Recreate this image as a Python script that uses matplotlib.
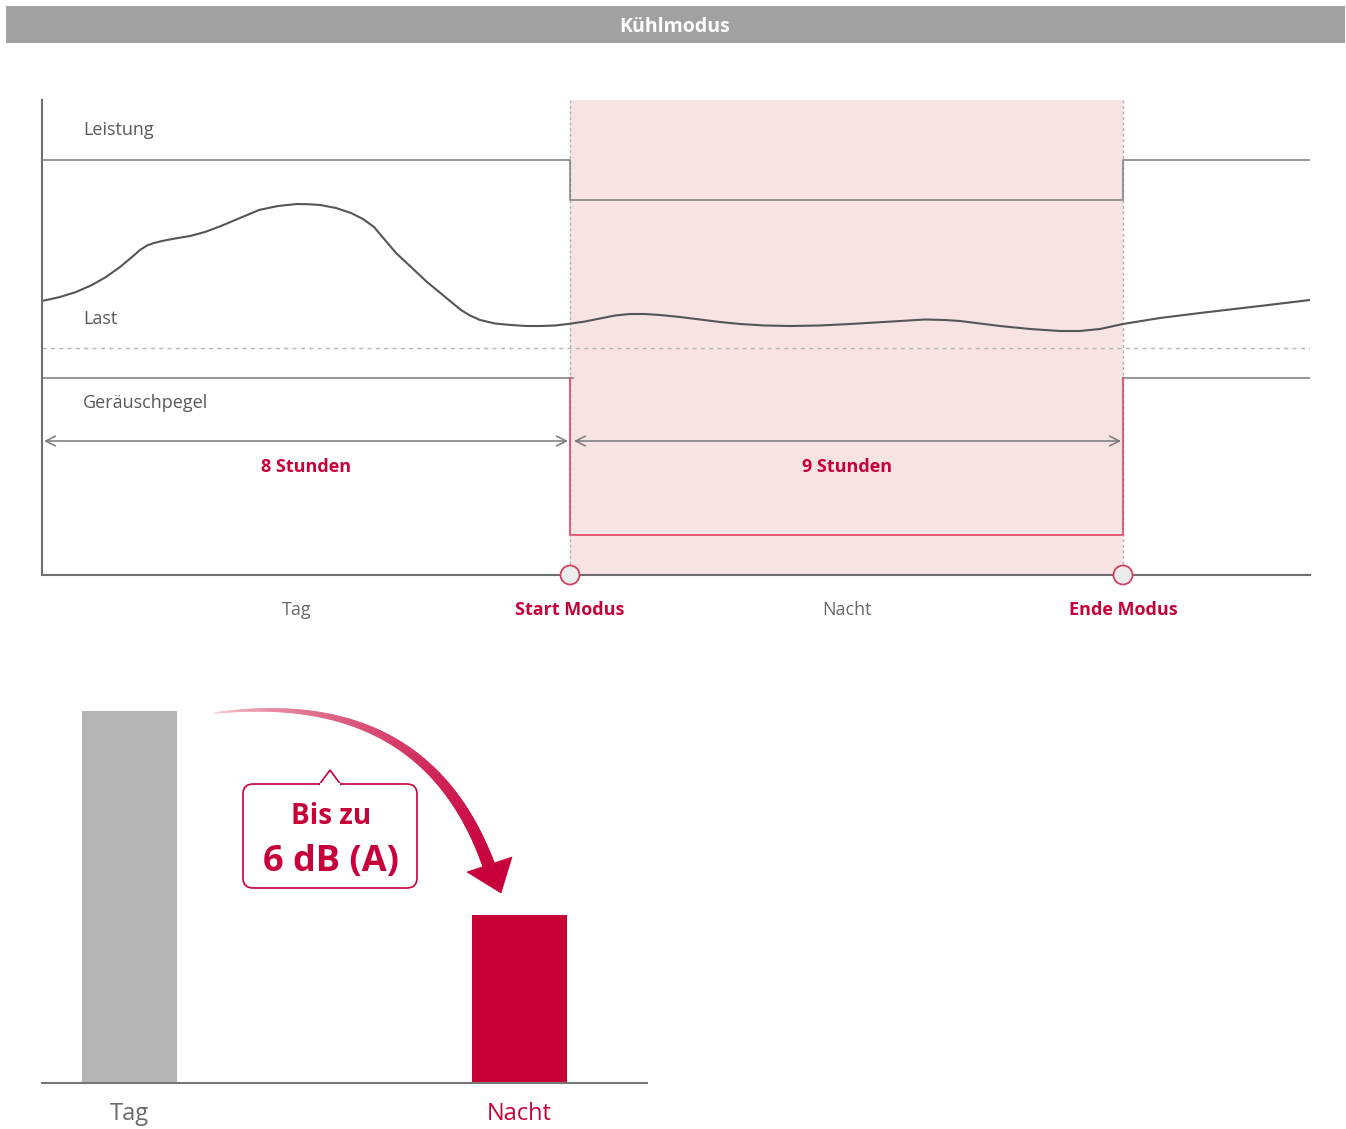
import numpy as np
import matplotlib
matplotlib.use("Agg")
import matplotlib.pyplot as plt
from matplotlib import font_manager
from matplotlib.patches import Rectangle, FancyBboxPatch, Polygon, Circle
from matplotlib.collections import PolyCollection

# pick a family that really has a bold face
_pref = ["Noto Sans", "Open Sans", "Lato", "Roboto", "Liberation Sans", "DejaVu Sans"]
_fams = {}
for f in font_manager.fontManager.ttflist:
    w = f.weight if isinstance(f.weight, int) else (700 if str(f.weight) == "bold" else 400)
    _fams.setdefault(f.name, set()).add((w, f.style))
FAMILY = next((p for p in _pref if any(w >= 700 and s == "normal" for w, s in _fams.get(p, []))),
              "DejaVu Sans")
plt.rcParams['font.family'] = [FAMILY, 'DejaVu Sans']

# ---------------- data ----------------
title = "Kühlmodus"
row_labels = ["Leistung", "Last", "Geräuschpegel"]
axis_labels = ["Tag", "Start Modus", "Nacht", "Ende Modus"]
duration_labels = ["8 Stunden", "9 Stunden"]

# timeline (horizontal units of the diagram)
t_start, t_mode_on, t_mode_off, t_end = 42, 570, 1123, 1310
label_pos = [297, 570, 847, 1123]

# Leistung (power) level: normal / reduced
power_normal, power_reduced = 160, 200
# noise level: normal / reduced
noise_normal, noise_reduced = 378, 535
# load curve
load_x = [42, 60, 76, 92, 106, 120, 132, 140, 147, 154, 162, 175, 190, 205, 221, 240, 259, 278,
          297, 310, 320, 336, 351, 363, 374, 385, 396, 411, 427, 444, 461, 470, 480,
          495, 511, 526, 541, 555, 568, 585, 600, 615, 630, 645, 660, 680, 700, 720,
          740, 765, 790, 820, 850, 875, 900, 925, 945, 960, 980, 1000, 1030, 1060,
          1080, 1100, 1123, 1160, 1200, 1260, 1310]
load_y = [301, 297, 292, 285, 277, 267, 257, 250, 245.5, 243, 241, 238.5, 236, 232, 226, 218, 210, 206,
          204, 204.3, 205, 208, 213, 219, 227, 240, 253, 267, 282, 296, 310, 315.5, 320,
          323.5, 325, 326, 326, 325.5, 324, 321.5, 318.5, 315.5, 314, 314, 315, 317, 319.5, 322,
          324, 325.5, 326, 325.5, 324, 322.5, 321, 319.5, 320, 321, 323.5, 326, 329, 331,
          331, 329, 324, 318, 313, 306, 300]

# bar chart
bar_categories = ["Tag", "Nacht"]
bar_values = [372, 168]
callout_lines = ["Bis zu", "6 dB (A)"]

# ---------------- style ----------------
RED = "#c8003a"
GREY_TXT = "#595959"
PINK = "#f7e4e2"

W, H = 1346, 1129
fig = plt.figure(figsize=(W / 100, H / 100), dpi=100)

def px_axes(x0, y0, x1, y1, **kw):
    return fig.add_axes([x0 / W, 1 - y1 / H, (x1 - x0) / W, (y1 - y0) / H], **kw)

# overlay (decorations) in pixel coordinates
ov = px_axes(0, 0, W, H)
ov.set_xlim(0, W)
ov.set_ylim(H, 0)
ov.axis("off")
ov.set_zorder(0)

# title bar
ov.add_patch(Rectangle((6, 6), 1339, 37, facecolor="#a0a1a0", edgecolor="none"))
ov.text(W / 2 + 2, 27, title, color="white", fontsize=14, fontweight="bold",
        ha="center", va="center")

# ---------------- top diagram ----------------
top_y0, top_y1 = 100, 575
ax = px_axes(t_start, top_y0, t_end, top_y1)
ax.set_xlim(t_start, t_end)
ax.set_ylim(top_y1, top_y0)
ax.axis("off")
ax.set_zorder(1)
ax.patch.set_alpha(0)

ax.axvspan(t_mode_on, t_mode_off, color=PINK, lw=0, zorder=0)
for xv in (t_mode_on, t_mode_off):
    ax.plot([xv, xv], [top_y0, top_y1], color="#b0b0b0", lw=1, ls=(0, (2, 2)), zorder=1)

ax.plot([t_start, t_start], [top_y0, top_y1], color="#6e6e6e", lw=1.5, clip_on=False, zorder=3)
ax.plot([t_start, t_end], [top_y1, top_y1], color="#6e6e6e", lw=1.5, clip_on=False, zorder=3)

ax.plot([t_start, t_mode_on, t_mode_on, t_mode_off, t_mode_off, t_end],
        [power_normal, power_normal, power_reduced, power_reduced, power_normal, power_normal],
        color="#858585", lw=1.2, zorder=2)

ax.plot(load_x, load_y, color="#555555", lw=1.5, zorder=2, solid_joinstyle="round")

ax.plot([t_start, t_end], [348, 348], color="#b5b5b5", lw=1, ls=(0, (3, 3)), zorder=1)

ax.plot([t_start, t_mode_on + 3], [noise_normal, noise_normal], color="#858585", lw=1.2, zorder=2)
ax.plot([t_mode_off, t_end], [noise_normal, noise_normal], color="#858585", lw=1.2, zorder=2)
ax.plot([t_mode_on, t_mode_on, t_mode_off, t_mode_off],
        [noise_normal, noise_reduced, noise_reduced, noise_normal],
        color="#e0506e", lw=1.3, zorder=2)

arrow_y = 441
for (a, b), lab in zip([(t_start + 2, t_mode_on - 2), (t_mode_on + 4, t_mode_off - 2)], duration_labels):
    ax.annotate("", xy=(b, arrow_y), xytext=(a, arrow_y),
                arrowprops=dict(arrowstyle="<->,head_length=0.7,head_width=0.35",
                                color="#7a7a7a", lw=1.1, shrinkA=0, shrinkB=0), zorder=3)
    ax.text((a + b) / 2, 467, lab, color=RED, fontsize=13, fontweight="bold",
            ha="center", va="center")

for lab, yy in zip(row_labels, [130, 319, 403]):
    ax.text(83, yy, lab, color=GREY_TXT, fontsize=13, ha="left", va="center")

for xv in (t_mode_on, t_mode_off):
    ax.add_patch(Circle((xv, top_y1), 9.5, facecolor="#ececec", edgecolor="#d04060",
                        lw=1.3, zorder=5, clip_on=False))

for lab, xv, bold in zip(axis_labels, label_pos, [False, True, False, True]):
    ax.text(xv, 610, lab, color=RED if bold else "#6a6a6a", fontsize=13,
            fontweight="bold" if bold else "normal", ha="center", va="center", clip_on=False)

# ---------------- bar chart ----------------
bx0, bx1, by0, by1 = 42, 647, 700, 1083
bax = px_axes(bx0, by0, bx1, by1)
bax.set_zorder(1)
bax.patch.set_alpha(0)
unit = 390.0
bax.set_xlim(-87.5 / unit, 1 + 127.5 / unit)
bax.set_ylim(0, by1 - by0)
bax.bar([0, 1], bar_values, width=95 / unit, color=["#b4b5b4", "#c70036"], zorder=2)
for s in ("top", "right", "left"):
    bax.spines[s].set_visible(False)
bax.spines["bottom"].set_color("#777777")
bax.spines["bottom"].set_linewidth(1.5)
bax.set_yticks([])
bax.set_xticks([0, 1])
bax.set_xticklabels(bar_categories, fontsize=17)
bax.tick_params(axis="x", length=0, pad=14)
for lbl, c in zip(bax.get_xticklabels(), ["#6a6a6a", RED]):
    lbl.set_color(c)

# curved gradient arrow (decoration) as a strip of quads
P0 = np.array([215.0, 713.0])
P1 = np.array([425.0, 688.0])
P2 = np.array([489.0, 866.0])
t = np.linspace(0, 1, 160)
pts = ((1 - t)[:, None] ** 2) * P0 + (2 * (1 - t) * t)[:, None] * P1 + (t[:, None] ** 2) * P2
d = 2 * (1 - t)[:, None] * (P1 - P0) + 2 * t[:, None] * (P2 - P1)
d /= np.linalg.norm(d, axis=1)[:, None]
nrm = np.stack([-d[:, 1], d[:, 0]], axis=1)
half = (0.3 + 5.7 * t ** 0.8)[:, None]
left = pts + nrm * half
right = pts - nrm * half
quads = [np.array([left[i], left[i + 1], right[i + 1], right[i]]) for i in range(len(t) - 1)]
tm = (t[:-1] + t[1:]) / 2
c0 = np.array([0.98, 0.88, 0.88])
c1 = np.array([0.78, 0.0, 0.23])
cols = [tuple(c0 + (c1 - c0) * min(1, v ** 0.5)) for v in tm]
pc = PolyCollection(quads, facecolors=cols, edgecolors=cols, linewidths=0.6, zorder=3)
ov.add_collection(pc)
ov.add_patch(Polygon([[467, 872], [512, 857], [501, 893]], closed=True,
                     facecolor=c1, edgecolor=c1, lw=0.5, zorder=3))

# callout box
ov.add_patch(FancyBboxPatch((243, 784), 174, 104, boxstyle="round,pad=0,rounding_size=10",
                            facecolor="white", edgecolor=RED, lw=1.2, zorder=4))
ov.add_patch(Polygon([[319, 785], [330, 770], [341, 785]], closed=False,
                     facecolor="white", edgecolor=RED, lw=1.2, zorder=5))
ov.add_patch(Rectangle((320, 783), 20, 3, facecolor="white", edgecolor="none", zorder=6))
ov.text(331, 816, callout_lines[0], color=RED, fontsize=20, fontweight="bold",
        ha="center", va="center", zorder=7)
ov.text(331, 862, callout_lines[1], color=RED, fontsize=26, fontweight="bold",
        ha="center", va="center", zorder=7)

fig.savefig("out.png", dpi=100)
